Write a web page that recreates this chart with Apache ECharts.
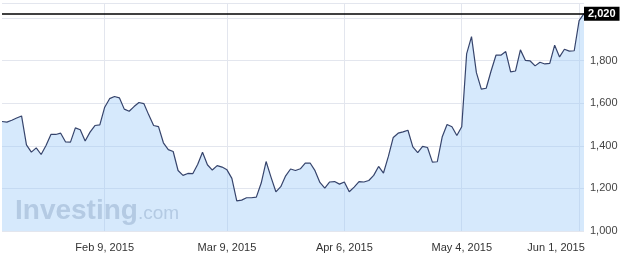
<!DOCTYPE html>
<html>
<head>
<meta charset="utf-8">
<script src="https://cdn.jsdelivr.net/npm/echarts@6/dist/echarts.min.js"></script>
<style>
html,body{margin:0;padding:0;background:#fff;}
#chart{width:621px;height:261px;}
</style>
</head>
<body>
<div id="chart"></div>
<script>
var categories = [
'2015-01-15','2015-01-16','2015-01-17',
'2015-01-19','2015-01-20','2015-01-21','2015-01-22','2015-01-23','2015-01-24',
'2015-01-26','2015-01-27','2015-01-28','2015-01-29','2015-01-30','2015-01-31',
'2015-02-02','2015-02-03','2015-02-04','2015-02-05','2015-02-06','2015-02-07',
'2015-02-09','2015-02-10','2015-02-11','2015-02-12','2015-02-13','2015-02-14','2015-02-15',
'2015-02-16','2015-02-17','2015-02-18','2015-02-19','2015-02-20','2015-02-21',
'2015-02-23','2015-02-24','2015-02-25','2015-02-26','2015-02-27','2015-02-28',
'2015-03-02','2015-03-03','2015-03-04','2015-03-05','2015-03-06','2015-03-07',
'2015-03-09','2015-03-10','2015-03-11','2015-03-12','2015-03-13','2015-03-14',
'2015-03-16','2015-03-17','2015-03-18','2015-03-19','2015-03-20','2015-03-21',
'2015-03-23','2015-03-24','2015-03-25','2015-03-26','2015-03-27','2015-03-28',
'2015-03-30','2015-03-31','2015-04-01','2015-04-02','2015-04-03','2015-04-04',
'2015-04-06','2015-04-07','2015-04-08','2015-04-09','2015-04-10','2015-04-11',
'2015-04-13','2015-04-14','2015-04-15','2015-04-16','2015-04-17','2015-04-18',
'2015-04-20','2015-04-21','2015-04-22','2015-04-23','2015-04-24','2015-04-25',
'2015-04-27','2015-04-28','2015-04-29','2015-04-30','2015-05-01','2015-05-02',
'2015-05-04','2015-05-05','2015-05-06','2015-05-07','2015-05-08','2015-05-09',
'2015-05-11','2015-05-12','2015-05-13','2015-05-14','2015-05-15','2015-05-16',
'2015-05-18','2015-05-19','2015-05-20','2015-05-21','2015-05-22','2015-05-23',
'2015-05-25','2015-05-26','2015-05-27','2015-05-28','2015-05-29','2015-05-30',
'2015-06-01','2015-06-02'
];

var prices = [
1514, 1511, 1520, 1530, 1540, 1404, 1370, 1390, 1359, 1401,
1453, 1453, 1459, 1418, 1417, 1484, 1475, 1422, 1464, 1495,
1498, 1581, 1621, 1631, 1625, 1572, 1562, 1584, 1603, 1598,
1545, 1495, 1490, 1414, 1382, 1373, 1284, 1261, 1270, 1269,
1312, 1370, 1311, 1286, 1307, 1300, 1287, 1247, 1141, 1145,
1156, 1156, 1159, 1225, 1326, 1253, 1184, 1208, 1259, 1291,
1284, 1292, 1319, 1319, 1283, 1228, 1201, 1230, 1232, 1220,
1230, 1184, 1206, 1232, 1230, 1237, 1261, 1303, 1272, 1350,
1439, 1459, 1465, 1473, 1395, 1368, 1397, 1392, 1323, 1325,
1441, 1500, 1489, 1448, 1489, 1831, 1912, 1743, 1666, 1670,
1751, 1825, 1825, 1842, 1747, 1751, 1850, 1801, 1798, 1775,
1792, 1784, 1787, 1872, 1817, 1853, 1844, 1846, 1987, 2020
];

var tickDates = ['2015-02-09','2015-03-09','2015-04-06','2015-05-04','2015-06-01'];
var tickLabels = ['Feb 9, 2015','Mar 9, 2015','Apr 6, 2015','May 4, 2015','Jun 1, 2015'];
var yTicks = [1000, 1200, 1400, 1600, 1800, 2000];

var FONT = 'Arial, "Liberation Sans", sans-serif';
var lastPrice = prices[prices.length - 1];
function fmt(v){ return Number(v).toLocaleString('en-US'); }
function isTick(idx, val){ return tickDates.indexOf(categories[idx]) >= 0; }

var chart = echarts.init(document.getElementById('chart'), null, {renderer:'canvas'});
chart.setOption({
  animation: false,
  backgroundColor: '#ffffff',
  grid: {left: 2, right: 37, top: 3, bottom: 30},
  xAxis: {
    type: 'category',
    data: categories,
    boundaryGap: false,
    axisLine: {show: false},
    axisTick: {show: false},
    splitLine: {show: true, interval: isTick, lineStyle: {color: '#e3e6ee', width: 1}},
    axisLabel: {
      interval: isTick,
      margin: 11,
      formatter: function(v){
        var k = tickDates.indexOf(v);
        if (k < 0) return '';
        return (k === tickDates.length - 1 ? '{r|' : '{a|') + tickLabels[k] + '}';
      },
      rich: {
        a: {fontFamily: FONT, fontSize: 11, color: '#333'},
        r: {fontFamily: FONT, fontSize: 11, color: '#333', padding: [0, 46, 0, 0]}
      }
    }
  },
  yAxis: {
    type: 'value',
    position: 'right',
    min: yTicks[0],
    max: 2070,
    interval: 200,
    axisLine: {show: false},
    axisTick: {show: false},
    splitLine: {show: true, lineStyle: {color: '#e3e6ee', width: 1}},
    axisLabel: {
      margin: 6,
      showMaxLabel: false,
      fontFamily: FONT,
      fontSize: 11,
      color: '#444',
      formatter: function(v){ return (yTicks.indexOf(v) >= 0 && v < 2000) ? fmt(v) : ''; }
    }
  },
  graphic: [
    {type: 'text', left: 15, top: 197, silent: true, z: 1,
     style: {text: 'Investing', font: 'bold 28px ' + FONT, fill: '#c6ccd6'}},
    {type: 'text', left: 138, top: 204, silent: true, z: 1,
     style: {text: '.com', font: '19px ' + FONT, fill: '#c6ccd6'}}
  ],
  series: [{
    type: 'line',
    data: prices,
    showSymbol: false,
    symbol: 'none',
    lineStyle: {color: '#36446c', width: 1.2},
    areaStyle: {color: 'rgba(153,199,247,0.4)', opacity: 1, origin: 'start'},
    markLine: {
      silent: true,
      symbol: ['none', 'none'],
      lineStyle: {color: '#000', width: 1.5, type: 'solid'},
      label: {
        show: true,
        position: 'end',
        distance: 0,
        formatter: function(){ return fmt(lastPrice); },
        color: '#fff',
        backgroundColor: '#000',
        fontFamily: FONT,
        fontWeight: 'bold',
        fontSize: 11,
        padding: [2, 4, 1, 4]
      },
      data: [{yAxis: lastPrice}]
    }
  }]
});
</script>
</body>
</html>
